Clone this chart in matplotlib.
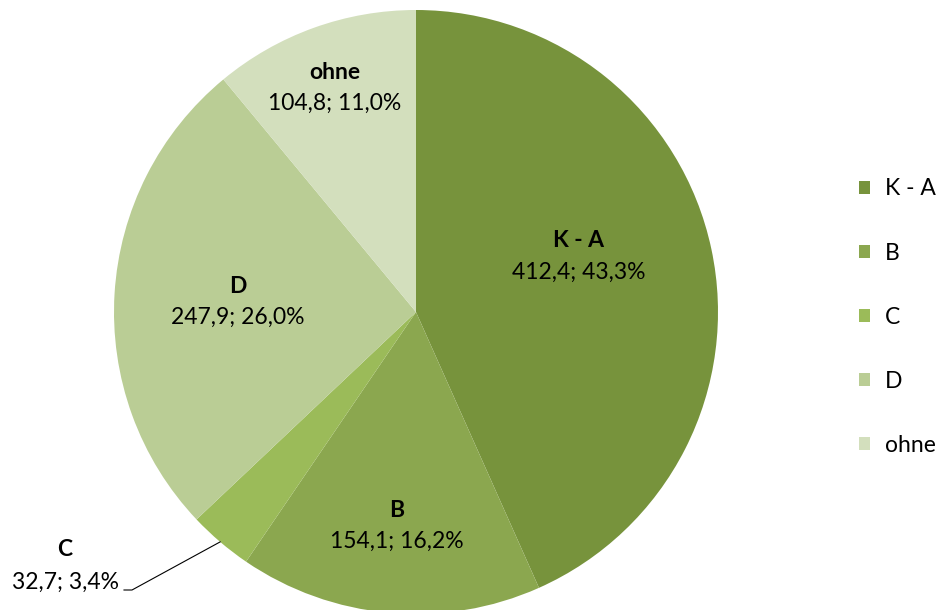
import numpy as np
import matplotlib
matplotlib.use('Agg')
import matplotlib.pyplot as plt
from matplotlib.patches import Patch

plt.rcParams['font.family'] = ['Lato', 'DejaVu Sans']

categories = ['K - A', 'B', 'C', 'D', 'ohne']
values = [412.4, 154.1, 32.7, 247.9, 104.8]
shares = ['43,3%', '16,2%', '3,4%', '26,0%', '11,0%']
value_texts = ['412,4', '154,1', '32,7', '247,9', '104,8']
colors = ['#77933C', '#8BA74F', '#9BBB59', '#BACD95', '#D3DFBD']

# label placement (fraction of radius, angle nudge in degrees)
label_radius = [0.57, 0.71, None, 0.59, 0.79]
label_nudge = [7, 0, 0, 0, 0]

fig = plt.figure(figsize=(9.52, 6.1), dpi=100)
ax = fig.add_axes([0, 0, 1, 1])

cx, cy, r = 416, 298, 302
wedges, _ = ax.pie(values, colors=colors, startangle=90, counterclock=False,
                   center=(cx, cy), radius=r, wedgeprops=dict(linewidth=0))
ax.set_xlim(0, 952)
ax.set_ylim(0, 610)
ax.set_aspect('equal')
ax.axis('off')

fs = 16.5
for i, w in enumerate(wedges):
    mid = np.deg2rad((w.theta1 + w.theta2) / 2 + label_nudge[i])
    if label_radius[i] is not None:
        x = cx + label_radius[i] * r * np.cos(mid)
        y = cy + label_radius[i] * r * np.sin(mid)
        ax.text(x, y + 15, categories[i], ha='center', va='center',
                fontsize=fs, fontweight='bold')
        ax.text(x, y - 16, value_texts[i] + '; ' + shares[i], ha='center',
                va='center', fontsize=fs)
    else:
        # outside label with leader line
        ex = cx + r * np.cos(mid)
        ey = cy + r * np.sin(mid)
        tx, ty = 65, 44
        ax.text(tx, ty + 16, categories[i], ha='center', va='center',
                fontsize=fs, fontweight='bold')
        ax.text(tx, ty - 16, value_texts[i] + '; ' + shares[i], ha='center',
                va='center', fontsize=fs)
        ax.plot([124, 132, ex], [20, 20, ey], color='black', lw=0.8)

handles = [Patch(facecolor=c, edgecolor='none') for c in colors]
fig.legend(handles, categories, loc='upper left',
           bbox_to_anchor=(848 / 952, 1 - 167 / 610), frameon=False,
           fontsize=fs, handlelength=0.48, handleheight=0.48,
           handletextpad=0.65, labelspacing=1.88, borderpad=0)

fig.savefig('out.png', dpi=100)
